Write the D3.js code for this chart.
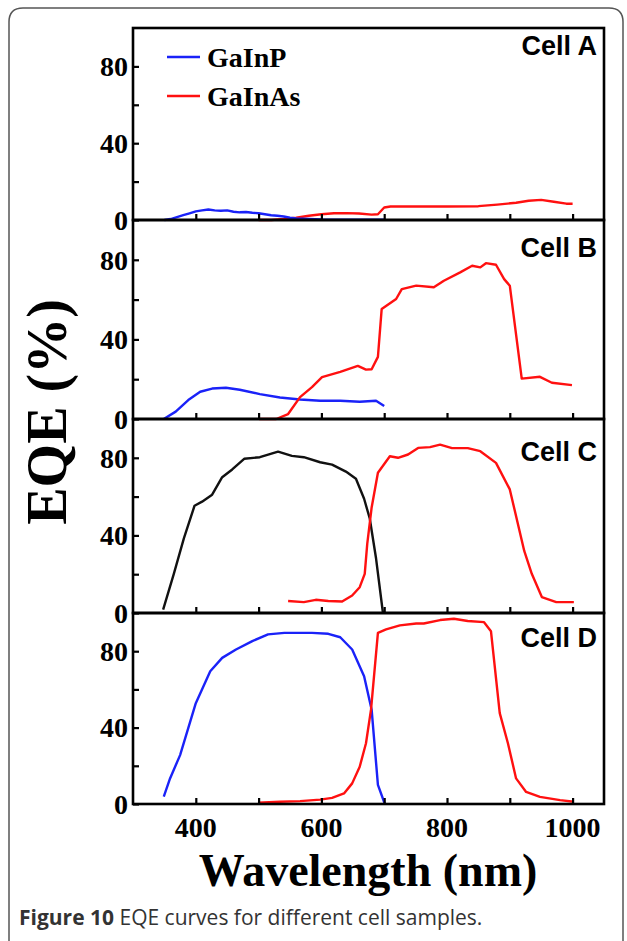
<!DOCTYPE html>
<html>
<head>
<meta charset="utf-8">
<script src="https://cdn.jsdelivr.net/npm/d3@7"></script>
<style>
  html, body { margin: 0; padding: 0; background: #fff; }
  svg { display: block; }
</style>
</head>
<body>
<div id="chart"></div>
<script>
// wavelength (nm), EQE (%)
const cellA_GaInP = [[350,0],[360,0.5],[370,1.5],[380,2.5],[390,3.5],[400,4.5],[410,5],[420,5.5],[430,5],[440,4.8],[450,5],[460,4.3],[470,4],[480,4.2],[490,3.8],[500,3.5],[510,3],[520,2.5],[530,2.2],[540,1.8],[550,1.2],[560,0.8],[580,0.5],[600,0.3],[650,0.2],[700,0.2]];
const cellA_GaInAs = [[500,0],[520,0],[540,0.5],[560,1.2],[580,2.2],[600,3],[620,3.5],[640,3.6],[660,3.4],[680,2.8],[690,3],[700,6.5],[710,7],[750,7],[800,7],[850,7.2],[880,8],[910,9],[930,10],[950,10.5],[970,9.5],[990,8.5],[1000,8.5]];

const cellB_GaInP = [[349,0],[368,3.7],[388,9.5],[407,13.7],[426,15.3],[448,15.7],[470,14.7],[502,12.5],[534,10.8],[566,9.8],[598,9.2],[630,9.2],[661,8.7],[687,9.2],[700,6.5]];
const cellB_GaInAs = [[501,0],[528,0],[547,2.5],[566,11],[585,16],[601,21],[630,23.7],[658,26.7],[671,24.8],[680,25],[690,31.2],[696,55.3],[719,60.3],[728,65.3],[751,67],[779,66.2],[795,69.5],[821,73.7],[840,77],[853,76.2],[862,78.3],[878,77.5],[891,70.3],[900,67],[919,20.3],[948,21.2],[967,18.2],[999,17]];

const cellC_top = [[348,1.7],[365,20.2],[381,38.5],[398,55.3],[410,57.4],[426,61],[442,70],[458,74],[477,79.5],[502,80.3],[531,83.2],[553,81],[572,80.3],[598,77.7],[617,76.5],[639,72.9],[655,69.2],[668,58.9],[677,48.7],[687,28.2],[698,0]];
const cellC_GaInAs = [[547,6.2],[572,5.6],[591,6.8],[611,6.2],[633,5.9],[649,9],[661,13.3],[669,20.2],[673,35.6],[680,54.4],[690,72.3],[709,80.8],[722,80],[738,81.7],[754,85.1],[773,85.5],[789,86.8],[808,85],[833,85],[853,83.4],[878,77.4],[900,63.7],[923,32],[935,20.2],[951,8.2],[974,5.6],[1002,5.6]];

const cellD_GaInP = [[349,3.9],[359,13.4],[375,25.6],[400,52.8],[423,69.5],[442,76.5],[464,80.9],[490,85.3],[515,88.8],[541,89.6],[585,89.6],[611,89.1],[630,87.3],[649,80.9],[668,66.9],[680,49.4],[690,10],[701,0]];
const cellD_GaInAs = [[499,0.7],[534,1.2],[566,1.5],[598,2.3],[617,3.2],[636,5.5],[649,10.8],[661,19.5],[671,31.8],[679,49.4],[690,89.6],[703,91.4],[725,93.5],[751,94.5],[763,94.5],[789,96.3],[811,97],[833,95.8],[859,95.2],[870,90.5],[884,47.6],[897,31.8],[910,13.4],[926,6.3],[948,3.7],[980,2],[1002,1.2]];

const cellNames = ["Cell A", "Cell B", "Cell C", "Cell D"];
const seriesNames = ["GaInP", "GaInAs"];
const xTicks = [400, 500, 600, 700, 800, 900, 1000];
const xTickLabels = [400, 600, 800, 1000];
const yTicks = [0, 20, 40, 60, 80];
const yTickLabels = [0, 40, 80];
const xDomain = [300, 1050];
const yDomain = [0, 100];

const W = 627, H = 941;
const left = 133, right = 604;
const bands = [[28, 220], [220, 419], [419, 613], [613, 804]];
const nameOffset = [27, 37, 42, 34];
const blue = "#1a22f8", red = "#ff1010", black = "#111";

const panels = [
  { name: cellNames[0], lines: [{ d: cellA_GaInAs, c: red }, { d: cellA_GaInP, c: blue }] },
  { name: cellNames[1], lines: [{ d: cellB_GaInP, c: blue }, { d: cellB_GaInAs, c: red }] },
  { name: cellNames[2], lines: [{ d: cellC_top, c: black }, { d: cellC_GaInAs, c: red }] },
  { name: cellNames[3], lines: [{ d: cellD_GaInP, c: blue }, { d: cellD_GaInAs, c: red }] }
];

const svg = d3.select("#chart").append("svg")
  .attr("width", W).attr("height", H);

// outer figure frame, open at the bottom
svg.append("path")
  .attr("d", "M9,941 L9,22 Q9,8 23,8 L609,8 Q623,8 623,22 L623,941")
  .attr("fill", "none")
  .attr("stroke", "#555")
  .attr("stroke-width", 1.5);

const x = d3.scaleLinear().domain(xDomain).range([left, right]);

const serif = "'Liberation Serif', 'Times New Roman', serif";

panels.forEach((p, i) => {
  const [top, bottom] = bands[i];
  const y = d3.scaleLinear().domain(yDomain).range([bottom, top]);
  const g = svg.append("g");

  const line = d3.line().x(d => x(d[0])).y(d => y(d[1]));
  p.lines.forEach(s => {
    g.append("path")
      .datum(s.d)
      .attr("d", line)
      .attr("fill", "none")
      .attr("stroke", s.c)
      .attr("stroke-width", 2.4)
      .attr("stroke-linejoin", "round");
  });

  // inward ticks
  g.append("g")
    .attr("transform", "translate(0," + bottom + ")")
    .call(d3.axisTop(x).tickValues(xTicks).tickSize(6).tickFormat(""))
    .call(a => a.select(".domain").remove());

  g.append("g")
    .attr("transform", "translate(" + left + ",0)")
    .call(d3.axisRight(y).tickValues(yTicks).tickSize(6).tickFormat(""))
    .call(a => a.select(".domain").remove());

  g.selectAll(".tick line").attr("stroke", "#000").attr("stroke-width", 2.2);

  g.selectAll(".ylab")
    .data(yTickLabels)
    .enter().append("text")
    .attr("x", left - 5)
    .attr("y", d => y(d))
    .attr("dy", "0.35em")
    .attr("text-anchor", "end")
    .style("font-family", serif)
    .style("font-weight", "bold")
    .style("font-size", "28px")
    .text(d => d);

  g.append("text")
    .attr("x", 597)
    .attr("y", top + nameOffset[i])
    .attr("text-anchor", "end")
    .style("font-family", "'Liberation Sans', Arial, sans-serif")
    .style("font-weight", "bold")
    .style("font-size", "27px")
    .text(p.name);

  g.append("rect")
    .attr("x", left).attr("y", top)
    .attr("width", right - left).attr("height", bottom - top)
    .attr("fill", "none")
    .attr("stroke", "#000")
    .attr("stroke-width", 2.6);
});

// x tick labels
svg.selectAll(".xlab")
  .data(xTickLabels)
  .enter().append("text")
  .attr("x", d => x(d))
  .attr("y", 837)
  .attr("text-anchor", "middle")
  .style("font-family", serif)
  .style("font-weight", "bold")
  .style("font-size", "28px")
  .text(d => d);

// legend in Cell A
const legendY = [57, 96];
seriesNames.forEach((n, i) => {
  svg.append("line")
    .attr("x1", 167).attr("x2", 200)
    .attr("y1", legendY[i]).attr("y2", legendY[i])
    .attr("stroke", i === 0 ? blue : red)
    .attr("stroke-width", 2.6);
  svg.append("text")
    .attr("x", 207).attr("y", legendY[i])
    .attr("dy", "0.35em")
    .style("font-family", serif)
    .style("font-weight", "bold")
    .style("font-size", "28px")
    .text(n);
});

// axis titles
svg.append("text")
  .attr("x", 368).attr("y", 886)
  .attr("text-anchor", "middle")
  .style("font-family", serif)
  .style("font-weight", "bold")
  .style("font-size", "46px")
  .text("Wavelength (nm)");

svg.append("text")
  .attr("transform", "translate(66,412) rotate(-90)")
  .attr("text-anchor", "middle")
  .style("font-family", serif)
  .style("font-weight", "bold")
  .style("font-size", "56px")
  .text("EQE (%)");

// caption
const cap = svg.append("text")
  .attr("x", 19).attr("y", 925)
  .style("font-family", "'Open Sans', 'Noto Sans', sans-serif")
  .style("font-size", "21px")
  .attr("fill", "#333");
cap.append("tspan").style("font-weight", "bold").text("Figure 10");
cap.append("tspan").text(" EQE curves for different cell samples.");
</script>
</body>
</html>
